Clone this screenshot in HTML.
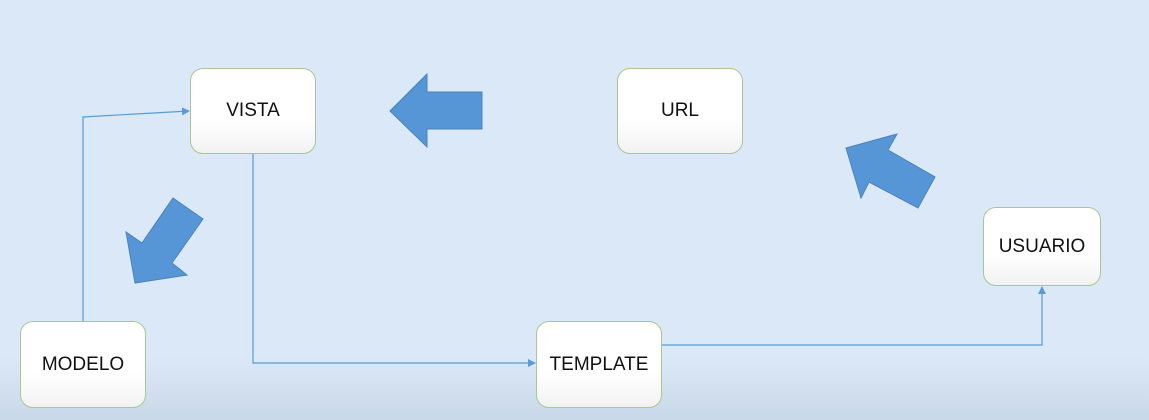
<!DOCTYPE html>
<html><head><meta charset="utf-8"><style>
html,body{margin:0;padding:0}
body{width:1149px;height:420px;overflow:hidden;background:linear-gradient(#dbe8f7 0%,#dbe8f7 85%,#c9d8e8 100%);position:relative;font-family:"Liberation Sans",sans-serif}
.b{position:absolute;background:linear-gradient(#fff 60%,#f2f2f2);border:1.5px solid #a8c88f;border-radius:13px;box-sizing:border-box;display:flex;align-items:center;justify-content:center;font-size:19px;color:#111}
svg{position:absolute;left:0;top:0}
</style></head><body>
<svg width="1149" height="420">
<defs><marker id="a" markerWidth="8" markerHeight="8" refX="7" refY="4" orient="auto" markerUnits="userSpaceOnUse"><path d="M0,0 L8,4 L0,8z" fill="#5b9bd5"/></marker></defs>
<g fill="none" stroke="#5b9bd5" stroke-width="1.2">
<polyline points="83,321 83,117 189,111" marker-end="url(#a)"/>
<polyline points="253,153 253,363 535,363" marker-end="url(#a)"/>
<polyline points="661,345 1042,345 1042,287" marker-end="url(#a)"/>
</g>
<g fill="#5796d6" stroke="#4a82bd" stroke-width="1">
<polygon points="390,111 427,74 427,92 482,92 482,129 427,129 427,147"/>
<polygon points="173,198 203,219 172,263 187,275 135,283 126,232 142,243"/>
<polygon points="846,148 897,134 888,150 935,177 918,208 869,182 861,198"/>
</g>
</svg>
<div class="b" style="left:190px;top:68px;width:126px;height:86px">VISTA</div>
<div class="b" style="left:617px;top:68px;width:126px;height:86px">URL</div>
<div class="b" style="left:20px;top:321px;width:126px;height:87px">MODELO</div>
<div class="b" style="left:536px;top:321px;width:126px;height:87px">TEMPLATE</div>
<div class="b" style="left:983px;top:207px;width:118px;height:79px">USUARIO</div>
</body></html>
